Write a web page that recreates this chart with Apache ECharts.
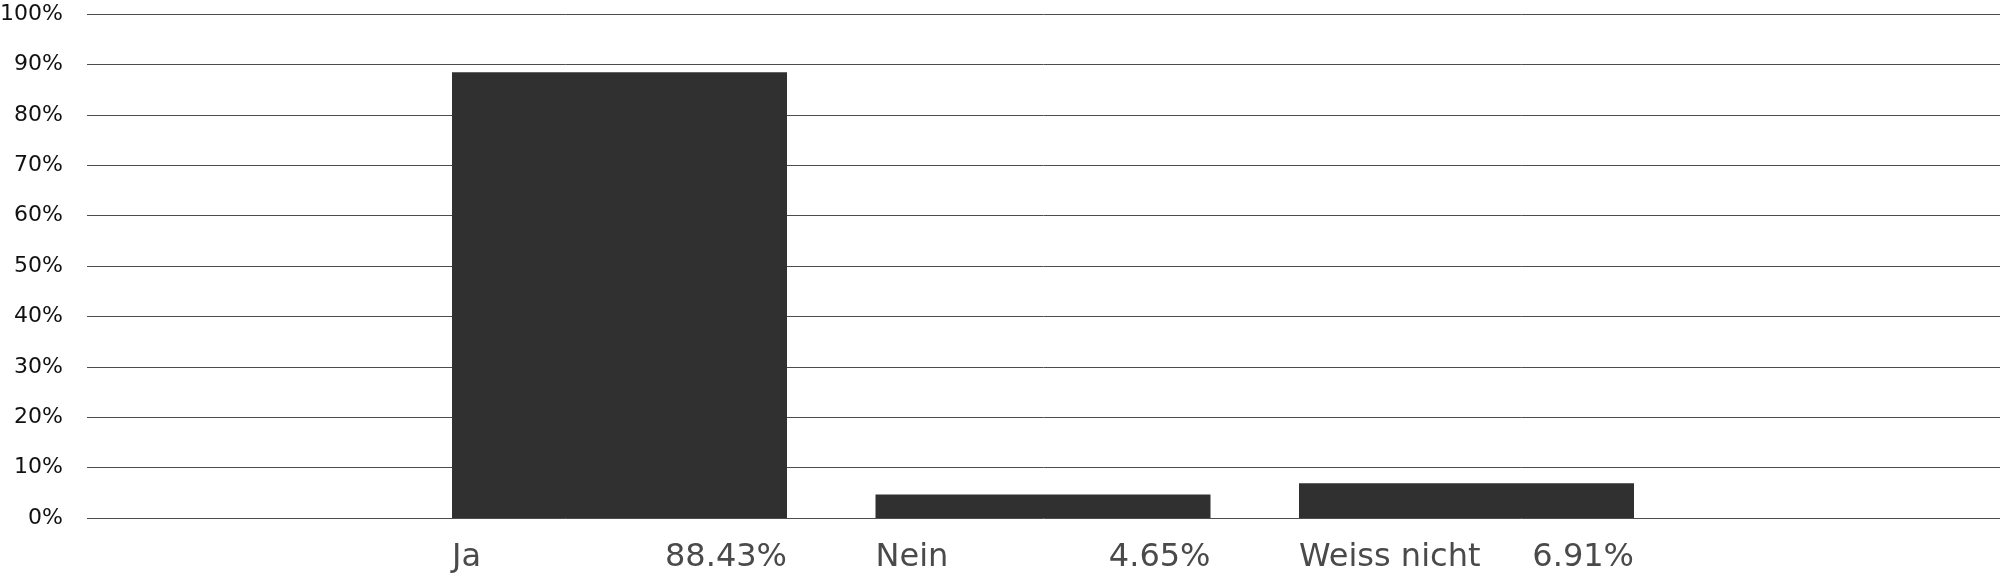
<!DOCTYPE html>
<html>
<head>
<meta charset="utf-8">
<script src="https://cdn.jsdelivr.net/npm/echarts@6/dist/echarts.min.js"></script>
<style>
html,body{margin:0;padding:0;background:#fff;}
#chart{width:2000px;height:577px;}
</style>
</head>
<body>
<div id="chart"></div>
<script>
const categories = ['Ja', 'Nein', 'Weiss nicht'];
const values = [88.43, 4.65, 6.91];
const yTicks = [0, 10, 20, 30, 40, 50, 60, 70, 80, 90, 100];

const FONT = 'DejaVu Sans';
const chart = echarts.init(document.getElementById('chart'), null, {renderer: 'canvas'});
const option = {
  animation: false,
  backgroundColor: '#ffffff',
  grid: [
    {left: 87, right: 0, top: 14, bottom: 59, outerBoundsMode: 'none', containLabel: false},
    {left: 407.75, right: 321.75, top: 14, bottom: 59, outerBoundsMode: 'none', containLabel: false}
  ],
  xAxis: [
    {gridIndex: 0, type: 'category', data: [''], show: false},
    {
      gridIndex: 1, type: 'category', data: categories,
      axisLine: {show: false}, axisTick: {show: false},
      axisLabel: {
        margin: 24,
        formatter: v => '{a|' + v + '}',
        rich: {a: {width: 335, align: 'left', fontFamily: FONT, fontSize: 32, color: '#4a4a4a'}}
      }
    },
    {
      gridIndex: 1, type: 'category', data: categories, position: 'bottom',
      axisLine: {show: false}, axisTick: {show: false},
      axisLabel: {
        margin: 24,
        formatter: (v, i) => '{b|' + values[i].toFixed(2) + '%}',
        rich: {b: {width: 335, align: 'right', fontFamily: FONT, fontSize: 32, color: '#4a4a4a'}}
      }
    }
  ],
  yAxis: [
    {
      gridIndex: 0, type: 'value', min: yTicks[0], max: yTicks[yTicks.length - 1], interval: 10,
      axisLine: {show: false}, axisTick: {show: false},
      splitLine: {lineStyle: {color: '#4d4d4d', width: 1}},
      axisLabel: {margin: 24, formatter: '{value}%', fontFamily: FONT, fontSize: 22, color: '#111'}
    },
    {gridIndex: 1, type: 'value', min: 0, max: 100, show: false}
  ],
  series: [{
    type: 'bar',
    xAxisIndex: 1, yAxisIndex: 1,
    data: values,
    barWidth: 335,
    itemStyle: {color: '#303030'}
  }]
};
chart.setOption(option);
</script>
</body>
</html>
